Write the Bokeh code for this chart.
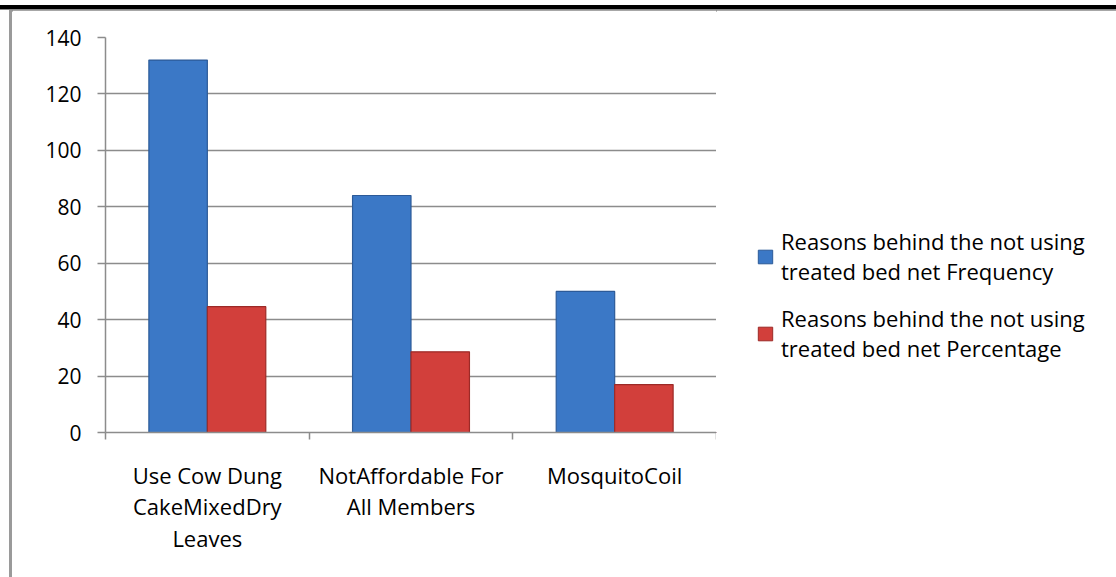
import numpy as np
from bokeh.plotting import figure
from bokeh.layouts import column, row
from bokeh.models import FixedTicker, Legend, LegendItem, Range1d, Div, ColumnDataSource
from bokeh.embed import file_html
from bokeh.resources import INLINE

# ---- data ----
categories = ["Use Cow Dung\nCakeMixedDry\nLeaves", "NotAffordable For\nAll Members", "MosquitoCoil"]
frequency = [132, 84, 50]
percentage = [44.6, 28.6, 17.0]
series_names = ["Reasons behind the not using\ntreated bed net Frequency",
                "Reasons behind the not using\ntreated bed net Percentage"]
y_ticks = [0, 20, 40, 60, 80, 100, 120, 140]

FONT = "Open Sans"
W, H = 1116, 577
TOP, LEFT = 10, 12          # page-frame decoration sizes
FRAME_RIGHT = 716           # page x where the plot area ends
GRID = "#8c8c8c"
BLUE, BLUE_EDGE = "#3b78c6", "#2c5a98"
RED, RED_EDGE = "#d23f3b", "#9c2a27"

n = len(categories)
FH = H - TOP
PW = FRAME_RIGHT - LEFT
p = figure(width=PW, height=FH, output_backend="svg", toolbar_location=None,
           x_range=Range1d(0, n), y_range=Range1d(0, 140),
           min_border_left=105 - LEFT, min_border_right=0,
           min_border_top=37 - TOP, min_border_bottom=H - 432)
p.outline_line_color = None
p.background_fill_color = "white"
p.border_fill_color = "white"

centers = np.arange(n) + 0.5
bw = 0.287
r1 = p.vbar(x=centers - bw / 2, top=frequency, width=bw,
            fill_color=BLUE, line_color=BLUE_EDGE, line_width=1.2)
r2 = p.vbar(x=centers + bw / 2, top=percentage, width=bw,
            fill_color=RED, line_color=RED_EDGE, line_width=1.2)

# x axis: labels at category centres, ticks at category boundaries
xa = p.xaxis[0]
xa.ticker = FixedTicker(ticks=list(centers), minor_ticks=list(range(n + 1)))
xa.major_label_overrides = {float(c): lab for c, lab in zip(centers, categories)}
xa.major_tick_out = 0
xa.major_tick_in = 0
xa.minor_tick_out = 7
xa.minor_tick_in = 0
xa.minor_tick_line_color = GRID
xa.minor_tick_line_width = 1.5
xa.axis_line_color = GRID
xa.axis_line_width = 1.5
xa.major_label_text_font = FONT
xa.major_label_text_font_size = "22px"
xa.major_label_text_color = "black"
xa.major_label_text_line_height = 1.06
xa.major_label_standoff = 20

ya = p.yaxis[0]
ya.ticker = FixedTicker(ticks=y_ticks)
ya.major_tick_out = 8
ya.major_tick_in = 0
ya.major_tick_line_color = GRID
ya.major_tick_line_width = 1.5
ya.minor_tick_line_color = None
ya.axis_line_color = GRID
ya.axis_line_width = 1.5
ya.major_label_text_font = FONT
ya.major_label_text_font_size = "21px"
ya.major_label_text_color = "black"
ya.major_label_standoff = 16

p.xgrid.visible = False
p.ygrid.ticker = FixedTicker(ticks=y_ticks)
p.ygrid.grid_line_color = GRID
p.ygrid.grid_line_width = 1.5

# legend lives in its own (axis-less) figure to the right of the plot area;
# its key renderers hold a single bar that lies outside the visible range
LW = W - FRAME_RIGHT
lg = figure(width=LW, height=FH, output_backend="svg", toolbar_location=None,
            x_axis_type=None, y_axis_type=None, x_range=Range1d(0, 1), y_range=Range1d(0, 1),
            min_border=0)
lg.outline_line_color = None
lg.grid.visible = False
key_src = ColumnDataSource(dict(x=[-5.0], top=[0.0]))
k1 = lg.vbar(x="x", top="top", width=0.1, source=key_src, fill_color=BLUE, line_color=BLUE_EDGE)
k2 = lg.vbar(x="x", top="top", width=0.1, source=key_src, fill_color=RED, line_color=RED_EDGE)
legend = Legend(items=[LegendItem(label=series_names[0], renderers=[k1]),
                       LegendItem(label=series_names[1], renderers=[k2])],
                location=(40, 69), orientation="vertical",
                border_line_color=None, background_fill_alpha=0,
                padding=0, margin=0, spacing=17,
                glyph_width=18, glyph_height=17, label_standoff=7,
                label_text_font=FONT, label_text_font_size="22px",
                label_text_line_height=1.06, label_text_color="black")
lg.add_layout(legend)

top_bar = Div(width=W, height=TOP, margin=0, text=(
    '<div style="position:relative;width:%dpx;height:%dpx;background:white">'
    '<div style="position:absolute;left:0;top:3px;width:%dpx;height:4px;background:#000"></div>'
    '<div style="position:absolute;left:0;top:7px;width:%dpx;height:2px;background:#8a8a8a"></div>'
    '<div style="position:absolute;left:9px;top:9px;width:%dpx;height:1px;background:#a8a8a8"></div>'
    '</div>') % (W, TOP, W, W, W - 9))
left_bar = Div(width=LEFT, height=FH, margin=0, text=(
    '<div style="position:relative;width:%dpx;height:%dpx;background:white">'
    '<div style="position:absolute;left:9px;top:0;width:3px;height:%dpx;background:#9a9a9a"></div>'
    '</div>') % (LEFT, FH, FH))

page = column(top_bar, row(left_bar, p, lg, spacing=0), spacing=0)

open("out.html", "w").write(file_html(page, INLINE))
